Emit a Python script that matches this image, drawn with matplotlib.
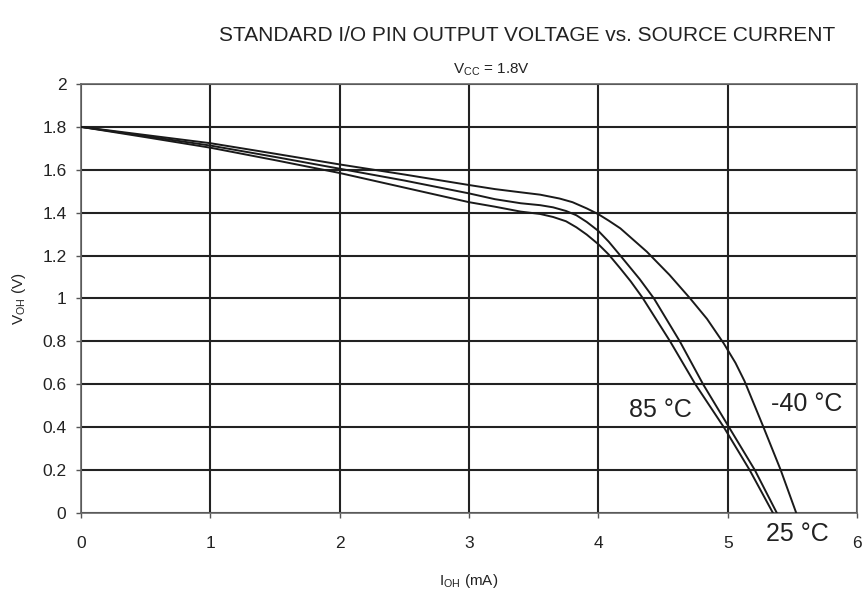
import matplotlib
matplotlib.use("Agg")
import matplotlib.pyplot as plt

# %%
# data (I_OH in mA, V_OH in V)
x_m40 = [0, 0.5, 1, 1.5, 2, 2.5, 3, 3.2, 3.4, 3.55, 3.7, 3.8, 3.91, 4.0, 4.08, 4.17,
         4.375, 4.55, 4.71, 4.84, 4.97, 5.06, 5.13, 5.27, 5.41, 5.53]
v_m40 = [1.80, 1.762, 1.724, 1.675, 1.625, 1.578, 1.529, 1.51, 1.495, 1.484, 1.466,
         1.449, 1.42, 1.393, 1.363, 1.327, 1.218, 1.11, 1.0, 0.905, 0.79, 0.70,
         0.615, 0.41, 0.2, 0.0]

x_25 = [0, 0.5, 1, 1.5, 2, 2.5, 3, 3.2, 3.4, 3.55, 3.65, 3.75, 3.83, 3.91, 4.0,
        4.08, 4.17, 4.32, 4.43, 4.63, 4.81, 5.01, 5.21, 5.38]
v_25 = [1.80, 1.757, 1.713, 1.66, 1.605, 1.55, 1.49, 1.463, 1.444, 1.435, 1.425,
        1.408, 1.388, 1.357, 1.315, 1.265, 1.2, 1.09, 1.0, 0.8, 0.6, 0.4, 0.2, 0.0]

x_85 = [0, 0.5, 1, 1.5, 2, 2.5, 3, 3.2, 3.4, 3.55, 3.65, 3.75, 3.83, 3.91, 4.0,
        4.08, 4.17, 4.25, 4.34, 4.45, 4.555, 4.75, 4.97, 5.17, 5.35]
v_85 = [1.80, 1.752, 1.703, 1.645, 1.585, 1.517, 1.449, 1.428, 1.405, 1.394, 1.38,
        1.36, 1.332, 1.298, 1.253, 1.205, 1.14, 1.08, 1.005, 0.9, 0.8, 0.6, 0.4,
        0.2, 0.0]

x_ticks = [0, 1, 2, 3, 4, 5, 6]
y_ticks = [0, 0.2, 0.4, 0.6, 0.8, 1, 1.2, 1.4, 1.6, 1.8, 2]
y_tick_labels = ["0", "0.2", "0.4", "0.6", "0.8", "1", "1.2", "1.4", "1.6", "1.8", "2"]

# %%
plt.rcParams["font.family"] = ["Liberation Sans", "DejaVu Sans"]
plt.rcParams["mathtext.fontset"] = "custom"
plt.rcParams["mathtext.rm"] = "Liberation Sans"

fig = plt.figure(figsize=(8.67, 5.94), dpi=100)
ax = fig.add_axes([0.0934, 0.1364, 0.8951, 0.7222])

for xs, ys in [(x_m40, v_m40), (x_25, v_25), (x_85, v_85)]:
    ax.plot(xs, ys, color="#1a1a1a", linewidth=1.4, zorder=3,
            solid_joinstyle="round")

ax.set_xlim(0, 6)
ax.set_ylim(0, 2)
ax.set_xticks(x_ticks)
ax.set_yticks(y_ticks)
ax.set_yticklabels(y_tick_labels)
ax.grid(True, color="#222222", linewidth=1.5)
ax.tick_params(direction="out", length=3.5, width=1, color="#555555",
               labelsize=12.5, labelcolor="#222222")
ax.tick_params(axis="x", pad=13)
ax.tick_params(axis="y", pad=7)
for s in ax.spines.values():
    s.set_color("#666666")
    s.set_linewidth(1.2)

ax.set_xlabel(r"I$_{\mathrm{OH}}$ (mA)", fontsize=11, color="#222222", labelpad=15)
ax.set_ylabel(r"V$_{\mathrm{OH}}$ (V)", fontsize=11, color="#222222", labelpad=10)

fig.text(0.6085, 0.94, "STANDARD I/O PIN OUTPUT VOLTAGE vs. SOURCE CURRENT",
         ha="center", va="center", fontsize=15, color="#222222")
fig.text(0.567, 0.882, r"V$_{\mathrm{CC}}$ = 1.8V", ha="center", va="center",
         fontsize=11, color="#222222")

ax.text(4.48, 0.48, "85 °C", fontsize=18, color="#222222", ha="center", va="center")
ax.text(5.61, 0.51, "-40 °C", fontsize=18, color="#222222", ha="center", va="center")
ax.text(5.54, -0.10, "25 °C", fontsize=18, color="#222222", ha="center", va="center",
        clip_on=False)

fig.savefig("out.png", dpi=100)
